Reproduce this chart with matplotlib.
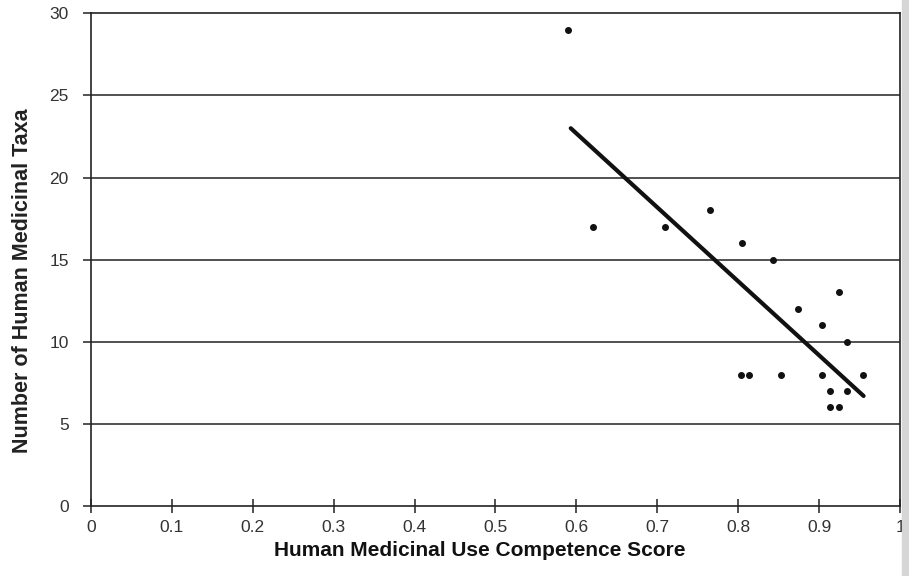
import matplotlib.pyplot as plt
from matplotlib.patches import Rectangle

# competence score vs number of taxa
score = [0.59, 0.62, 0.71, 0.765, 0.805, 0.843, 0.924, 0.874, 0.904, 0.935,
         0.803, 0.813, 0.853, 0.904, 0.954, 0.913, 0.934, 0.913, 0.924]
taxa = [29, 17, 17, 18, 16, 15, 13, 12, 11, 10,
        8, 8, 8, 8, 8, 7, 7, 6, 6]

# regression line end points
fit_x = [0.593, 0.955]
fit_y = [23.0, 6.7]

xticks = [0, 0.1, 0.2, 0.3, 0.4, 0.5, 0.6, 0.7, 0.8, 0.9, 1]
xlabels = ['0', '0.1', '0.2', '0.3', '0.4', '0.5', '0.6', '0.7', '0.8', '0.9', '1']
yticks = [0, 5, 10, 15, 20, 25, 30]

plt.rcParams['font.family'] = ['Liberation Sans', 'DejaVu Sans']

fig = plt.figure(figsize=(9.09, 5.76), dpi=100)
ax = fig.add_axes([0.1001, 0.1215, 0.8900, 0.8555])

# greyish scan edge on the right
fig.patches.append(Rectangle((0.992, 0), 0.008, 1, transform=fig.transFigure,
                             color='#d6d6d6', zorder=0))

ax.set_xlim(0, 1)
ax.set_ylim(0, 30)

for y in yticks[1:-1]:
    ax.axhline(y, color='#222222', lw=1.1, zorder=1)

ax.plot(fit_x, fit_y, color='#111111', lw=3.0, solid_capstyle='round', zorder=2)
ax.scatter(score, taxa, s=16, color='#111111', zorder=3)

for side in ['left', 'right', 'top', 'bottom']:
    ax.spines[side].set_color('#222222')
    ax.spines[side].set_linewidth(1.2)

ax.set_xticks(xticks)
ax.set_xticklabels(xlabels)
ax.set_yticks(yticks)
ax.tick_params(axis='x', direction='inout', length=10, width=1.1,
               labelsize=12.5, pad=5, colors='#222222', labelcolor='#333333')
ax.tick_params(axis='y', direction='out', length=6, width=1.1,
               labelsize=12.5, pad=10, colors='#222222', labelcolor='#333333')

ax.set_xlabel('Human Medicinal Use Competence Score', fontsize=15,
              fontweight='bold', color='#111111')
ax.xaxis.set_label_coords(0.481, -0.070)
ax.set_ylabel('Number of Human Medicinal Taxa', fontsize=15.5,
              fontweight='bold', color='#222222')
ax.yaxis.set_label_coords(-0.072, 0.458)

fig.savefig('out.png', dpi=100)
